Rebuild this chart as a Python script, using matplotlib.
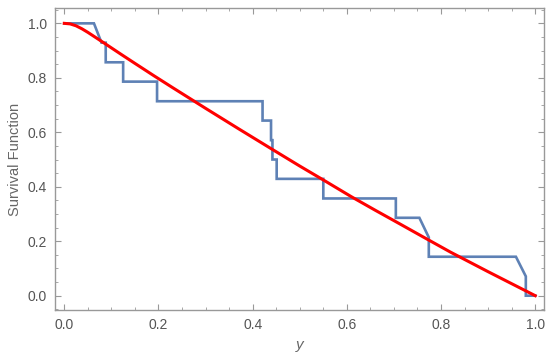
import matplotlib
matplotlib.use("Agg")
import matplotlib.pyplot as plt
from matplotlib.ticker import MultipleLocator

# Empirical survival (polyline vertices as drawn)
emp_x = [0.0, 0.063, 0.079, 0.088, 0.088, 0.125, 0.125, 0.197, 0.197, 0.421, 0.421,
         0.439, 0.439, 0.442, 0.442, 0.451, 0.451, 0.55, 0.55, 0.704, 0.704, 0.754,
         0.774, 0.774, 0.959, 0.98, 0.98, 1.0]
emp_y = [1.0, 1.0, 0.929, 0.929, 0.857, 0.857, 0.786, 0.786, 0.714, 0.714, 0.643,
         0.643, 0.571, 0.571, 0.5, 0.5, 0.429, 0.429, 0.357, 0.357, 0.286, 0.286,
         0.214, 0.143, 0.143, 0.071, 0.0, 0.0]

# Fitted survival curve
fit_x = [0.0, 0.0125, 0.025, 0.0375, 0.05, 0.065, 0.08, 0.10, 0.12, 0.15, 0.19, 0.23,
         0.30, 0.37, 0.44, 0.50, 0.55, 0.61, 0.66, 0.71, 0.77, 0.82, 0.84, 0.90, 0.95, 1.0]
fit_y = [1.0, 0.998, 0.991, 0.980, 0.967, 0.950, 0.933, 0.910, 0.887, 0.853, 0.808, 0.764,
         0.688, 0.613, 0.539, 0.476, 0.425, 0.363, 0.314, 0.266, 0.208, 0.160, 0.142,
         0.088, 0.044, 0.0]

xticks = [0.0, 0.2, 0.4, 0.6, 0.8, 1.0]
yticks = [0.0, 0.2, 0.4, 0.6, 0.8, 1.0]

plt.rcParams['font.family'] = ['Liberation Sans', 'DejaVu Sans']

fig = plt.figure(figsize=(5.5, 3.64), dpi=100)
ax = fig.add_axes([0.1, 0.1484, 0.889, 0.8286])

ax.plot(emp_x, emp_y, color='#5E81B5', lw=1.9, solid_joinstyle='miter', zorder=2)
ax.plot(fit_x, fit_y, color='#FF0000', lw=2.2, zorder=3)

ax.set_xlim(-0.0197, 1.0185)
ax.set_ylim(-0.0525, 1.055)
ax.set_xticks(xticks)
ax.set_yticks(yticks)
ax.set_xticklabels([f"{v:.1f}" for v in xticks])
ax.set_yticklabels([f"{v:.1f}" for v in yticks])
ax.xaxis.set_minor_locator(MultipleLocator(0.05))
ax.yaxis.set_minor_locator(MultipleLocator(0.05))

gray = '#999999'
for s in ax.spines.values():
    s.set_color(gray)
    s.set_linewidth(1.0)
ax.tick_params(which='both', direction='in', top=True, right=True, color=gray,
               labelcolor='#555555', labelsize=10)
ax.tick_params(which='major', length=4, width=0.8, pad=6)
ax.tick_params(which='minor', length=2, width=0.6)

ax.set_ylabel('Survival Function', color='#666666', fontsize=10.5, labelpad=4)
ax.set_xlabel('y', color='#666666', fontsize=11, style='italic', labelpad=4)

fig.savefig('out.png', dpi=100)
